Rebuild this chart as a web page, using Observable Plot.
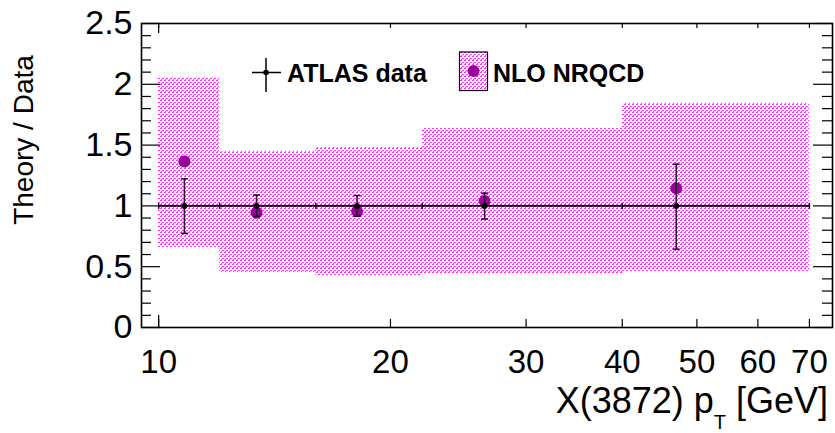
<!DOCTYPE html>
<html>
<head>
<meta charset="utf-8">
<script src="https://cdn.jsdelivr.net/npm/d3@7"></script>
<script src="https://cdn.jsdelivr.net/npm/@observablehq/plot@0.6"></script>
<style>
  html, body { margin: 0; padding: 0; background: #fff; }
  #chart svg { display: block; }
</style>
</head>
<body>
<div id="chart"></div>
<script>
// pT bins of the X(3872) measurement [GeV]
const binLo = [10, 12, 16, 22, 40];
const binHi = [12, 16, 22, 40, 70];
// ATLAS data (normalised to 1) at the bin centroid, with its uncertainty
const dataX = [10.8, 13.4, 18.1, 26.5, 47.0];
const dataY = [1, 1, 1, 1, 1];
const dataLo = [0.774, 0.914, 0.915, 0.892, 0.644];
const dataHi = [1.223, 1.089, 1.085, 1.105, 1.343];
// NLO NRQCD prediction / data, central value and uncertainty band
const theoryY = [1.365, 0.944, 0.957, 1.040, 1.146];
const bandLo = [0.662, 0.451, 0.424, 0.443, 0.457];
const bandHi = [2.049, 1.447, 1.478, 1.634, 1.839];

// axis ticks
const xTicks = [10, 20, 30, 40, 50, 60, 70];
const xTickLabels = ["10", "20", "30", "40", "50", "60", "70"];
const yMajor = [0, 0.5, 1, 1.5, 2, 2.5];
const yTickLabels = ["0", "0.5", "1", "1.5", "2", "2.5"];
const yMinor = [0.1, 0.2, 0.3, 0.4, 0.6, 0.7, 0.8, 0.9, 1.1, 1.2, 1.3, 1.4,
                1.6, 1.7, 1.8, 1.9, 2.1, 2.2, 2.3, 2.4];

const W = 835, H = 433;
const mL = 141, mR = 3, mT = 23, mB = 106;
const pw = W - mL - mR, ph = H - mT - mB;
const font = "'Liberation Sans', Arial, Helvetica, sans-serif";
const purple = "#990099";
const bins = binLo.map((_, i) => i);

// thin line symbols for the error-bar caps
const hcap = {draw(c, s) { const r = Math.sqrt(s / Math.PI); c.moveTo(-r, 0); c.lineTo(r, 0); }};
const vcap = {draw(c, s) { const r = Math.sqrt(s / Math.PI); c.moveTo(0, -r); c.lineTo(0, r); }};

const svg = Plot.plot({
  width: W, height: H,
  marginLeft: mL, marginRight: mR, marginTop: mT, marginBottom: mB,
  style: {fontFamily: font, background: "#fff", overflow: "visible"},
  x: {type: "log", domain: [9.5, 75], axis: null},
  y: {domain: [0, 2.5], axis: null},
  marks: [
    // theory uncertainty band
    Plot.rect(bins, {x1: i => binLo[i], x2: i => binHi[i], y1: i => bandLo[i], y2: i => bandHi[i],
      fill: "url(#nrqcdDots)", shapeRendering: "crispEdges"}),
    // theory central values
    Plot.dot(bins, {x: i => dataX[i], y: i => theoryY[i], r: 6, fill: purple}),
    // data: bin widths and uncertainties
    Plot.ruleY(bins, {x1: i => binLo[i], x2: i => binHi[i], y: i => dataY[i], stroke: "#000", strokeWidth: 1.6}),
    Plot.dot(bins, {x: i => binLo[i], y: i => dataY[i], symbol: vcap, r: 3, stroke: "#000", strokeWidth: 1.4}),
    Plot.dot([binHi[binHi.length - 1]], {x: d => d, y: 1, symbol: vcap, r: 3, stroke: "#000", strokeWidth: 1.4}),
    Plot.ruleX(bins, {x: i => dataX[i], y1: i => dataLo[i], y2: i => dataHi[i], stroke: "#222", strokeWidth: 1.6}),
    Plot.dot(bins, {x: i => dataX[i], y: i => dataLo[i], symbol: hcap, r: 3.5, stroke: "#000", strokeWidth: 1.4}),
    Plot.dot(bins, {x: i => dataX[i], y: i => dataHi[i], symbol: hcap, r: 3.5, stroke: "#000", strokeWidth: 1.4}),
    Plot.dot(bins, {x: i => dataX[i], y: i => dataY[i], r: 3, fill: "#000"}),
    // frame and inward ticks
    Plot.frame({stroke: "#000", strokeWidth: 1.6}),
    Plot.tickY(yMajor, {y: d => d, insetRight: pw - 19, stroke: "#000", strokeWidth: 1.2}),
    Plot.tickY(yMinor, {y: d => d, insetRight: pw - 10, stroke: "#000", strokeWidth: 1.2}),
    Plot.tickY(yMajor, {y: d => d, insetLeft: pw - 19, stroke: "#000", strokeWidth: 1.2}),
    Plot.tickY(yMinor, {y: d => d, insetLeft: pw - 10, stroke: "#000", strokeWidth: 1.2}),
    Plot.tickX(xTicks, {x: d => d, insetTop: ph - 8, stroke: "#000", strokeWidth: 1.2}),
    Plot.tickX(xTicks.slice(0, 1), {x: d => d, insetTop: ph - 12, stroke: "#000", strokeWidth: 1.2}),
    Plot.tickX(xTicks, {x: d => d, insetBottom: ph - 5, stroke: "#000", strokeWidth: 1.2}),
    Plot.tickX(xTicks.slice(0, 1), {x: d => d, insetBottom: ph - 10, stroke: "#000", strokeWidth: 1.2}),
    // tick labels
    Plot.text(yMajor, {y: d => d, text: (d, i) => yTickLabels[i], frameAnchor: "left", dx: -9,
      textAnchor: "end", lineAnchor: "middle", fontSize: 34, fill: "#000"}),
    Plot.text(xTicks, {x: d => d, text: (d, i) => xTickLabels[i], frameAnchor: "bottom", dy: 35,
      textAnchor: "middle", lineAnchor: "middle", fontSize: 33, fill: "#000"})
  ]
});

const root = d3.select(svg);
// dotted fill used by the NRQCD band and its legend entry
const pat = root.insert("defs", ":first-child").append("pattern")
  .attr("id", "nrqcdDots").attr("patternUnits", "userSpaceOnUse")
  .attr("width", 4).attr("height", 4);
[[0, 0], [1, 0], [2, 2], [3, 2], [1, 3]].forEach(([px, py]) =>
  pat.append("rect").attr("x", px).attr("y", py).attr("width", 1).attr("height", 1)
    .attr("fill", "#ff33ff").attr("shape-rendering", "crispEdges"));

// axis titles
root.append("text")
  .attr("transform", "translate(33,140) rotate(-90)")
  .attr("text-anchor", "middle")
  .attr("font-family", font).attr("font-size", 28).attr("fill", "#000")
  .text("Theory / Data");
const xt = root.append("text")
  .attr("x", 828).attr("y", 413)
  .attr("text-anchor", "end")
  .attr("font-family", font).attr("font-size", 36).attr("fill", "#000");
xt.append("tspan").text("X(3872) p");
xt.append("tspan").attr("font-size", 20).attr("dy", 16).text("T");
xt.append("tspan").attr("dy", -16).text(" [GeV]");

// legend
const lg = root.append("g").attr("font-family", font).attr("font-weight", "bold")
  .attr("font-size", 25).attr("text-anchor", "start");
lg.append("line").attr("x1", 252).attr("x2", 281).attr("y1", 72.5).attr("y2", 72.5).attr("stroke", "#000").attr("stroke-width", 1.5);
lg.append("line").attr("x1", 266).attr("x2", 266).attr("y1", 58).attr("y2", 92).attr("stroke", "#000").attr("stroke-width", 1.5);
lg.append("circle").attr("cx", 266).attr("cy", 72.5).attr("r", 2.8).attr("fill", "#000");
lg.append("text").attr("x", 287).attr("y", 81.5).attr("text-anchor", "start").text("ATLAS data");
lg.append("rect").attr("x", 459.5).attr("y", 52).attr("width", 28).attr("height", 38.5)
  .attr("fill", "url(#nrqcdDots)").attr("stroke", "#000").attr("stroke-width", 1.2);
lg.append("circle").attr("cx", 473.5).attr("cy", 71).attr("r", 6).attr("fill", purple);
lg.append("text").attr("x", 493).attr("y", 81.5).attr("text-anchor", "start").text("NLO NRQCD");

document.getElementById("chart").appendChild(svg);
</script>
</body>
</html>
